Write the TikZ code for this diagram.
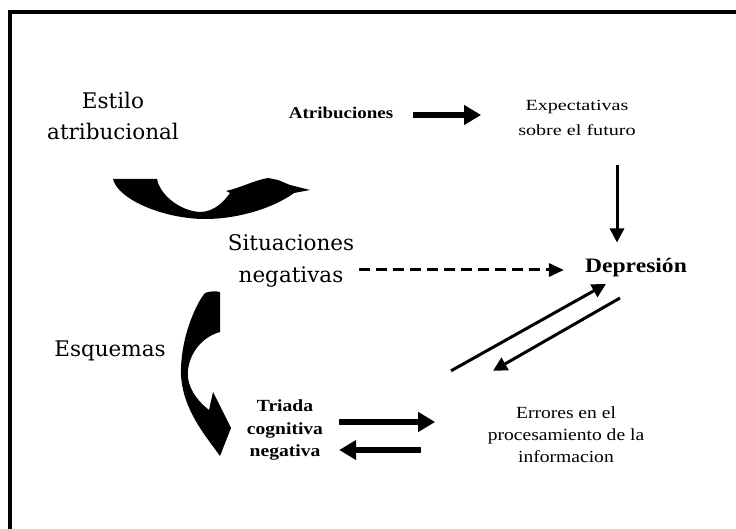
\documentclass[tikz,border=0pt]{standalone}
\usepackage{fontspec}
\setmainfont{Liberation Serif}
\newfontfamily\bigf{DejaVu Serif}
\newfontfamily\smallf[FakeStretch=1.15]{Liberation Serif}
\newfontfamily\widef[FakeStretch=1.3]{Liberation Serif}
\usetikzlibrary{arrows.meta}
\begin{document}
\begin{tikzpicture}[x=1pt,y=-1pt,
  big/.style={font={\bigf\fontsize{21.5}{31.5}\selectfont}, align=center, inner sep=0pt},
  smalltxt/.style={font={\widef\fontsize{15.5}{25}\selectfont}, align=center, inner sep=0pt},
  errtxt/.style={font={\smallf\fontsize{17}{22}\selectfont}, align=center, inner sep=0pt},
  boldtxt/.style={font={\smallf\bfseries\fontsize{17}{22.5}\selectfont}, align=center, inner sep=0pt},
  fat/.style={line width=5.5pt, -{Triangle[length=17pt,width=19pt]}},
  slim/.style={line width=3pt, -{Triangle[length=14pt,width=14pt]}},
  dsh/.style={line width=3pt, dash pattern=on 11pt off 6pt, -{Triangle[length=15pt,width=13pt]}},
  blob/.style={fill=black, draw=none}
]
\useasboundingbox (0,0) rectangle (736,529);
\clip (0,0) rectangle (736,529);
\fill[white] (0,0) rectangle (736,529);
% frame
\draw[line width=4pt] (10,12) rectangle (800,600);

% texts
\node[big] (estilo) at (113,116) {Estilo\\atribucional};
\node[boldtxt, font={\smallf\bfseries\fontsize{16.5}{22}\selectfont}] (atr) at (341,113) {Atribuciones};
\node[smalltxt] (exp) at (577,118) {Expectativas\\sobre el futuro};
\node[boldtxt, font={\smallf\bfseries\fontsize{20.5}{22}\selectfont}] (dep) at (636,268) {Depresión};
\node[big] (sit) at (291,261) {Situaciones\\negativas};
\node[big] (esq) at (110,351) {Esquemas};
\node[boldtxt] (tri) at (285,430) {Triada\\cognitiva\\negativa};
\node[errtxt] (err) at (566,435) {Errores en el\\procesamiento de la\\informacion};

% connectors
\draw[fat] ([shift={(20,2)}]atr.east) -- ([shift={(-37,-3)}]exp.west);
\draw[slim] ([shift={(40,29)}]exp.south) -- ([shift={(-19,-16)}]dep.north);
\draw[dsh] ([shift={(5,9)}]sit.east) -- ([shift={(-21,2)}]dep.west);
\draw[slim] ([shift={(-115,-36)}]err.north) -- ([shift={(-30,6.5)}]dep.south);
\draw[slim] ([shift={(-16,20.5)}]dep.south) -- ([shift={(-73,-36)}]err.north);
\draw[fat] ([shift={(16,-8)}]tri.east) -- ([shift={(-52.5,-13)}]err.west);
\draw[fat] ([shift={(-66.5,15)}]err.west) -- ([shift={(16,20)}]tri.east);

% curved block arrow (Estilo atribucional)
\path[blob] (113,179) -- (157,179)
  .. controls (160,195) and (180,211) .. (200,212)
  .. controls (215,212) and (225,200) .. (230,193)
  -- (226,191)
  .. controls (240,188) and (255,180) .. (268,178)
  -- (278,180) -- (290,185) -- (310,190) -- (294,193)
  .. controls (275,207) and (240,219) .. (205,219)
  .. controls (165,219) and (118,200) .. (113,179) -- cycle;

% curved block arrow (Esquemas)
\path[blob] (205,293) .. controls (210,291) and (216,291) .. (220,292) -- (220,332)
  .. controls (198,338) and (186,360) .. (188,378)
  .. controls (190,392) and (200,403) .. (209,410)
  -- (213,392) -- (222,410) -- (231,428) -- (220,456)
  .. controls (205,435) and (183,410) .. (181,375)
  .. controls (180,340) and (195,305) .. (205,293) -- cycle;
\end{tikzpicture}
\end{document}
